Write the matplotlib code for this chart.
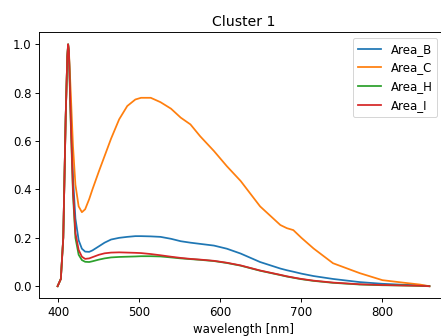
import matplotlib
matplotlib.use("Agg")
import matplotlib.pyplot as plt

wavelength = [399, 403, 406, 409, 411, 412, 413, 415, 418, 421, 425, 429, 433, 438, 442, 450,
              457, 465, 475, 485, 495, 502, 514, 526, 539, 551, 563, 575, 592, 608, 625,
              649, 674, 682, 690, 700, 715, 739, 772, 800, 825, 846, 858]

area_b = [0.0, 0.03, 0.2, 0.7, 0.95, 1.0, 0.97, 0.75, 0.45, 0.28, 0.19, 0.155, 0.143, 0.142, 0.148, 0.165,
          0.18, 0.193, 0.2, 0.204, 0.207, 0.207, 0.206, 0.204, 0.196, 0.186, 0.18, 0.175, 0.168, 0.155, 0.135,
          0.1, 0.073, 0.066, 0.06, 0.052, 0.042, 0.03, 0.017, 0.01, 0.006, 0.004, 0.0]

area_c = [0.0, 0.03, 0.2, 0.7, 0.95, 1.0, 0.97, 0.82, 0.58, 0.42, 0.33, 0.306, 0.318, 0.36, 0.40, 0.475,
          0.538, 0.61, 0.69, 0.745, 0.772, 0.779, 0.779, 0.761, 0.734, 0.697, 0.669, 0.62, 0.559, 0.496, 0.435,
          0.33, 0.253, 0.24, 0.232, 0.2, 0.156, 0.095, 0.054, 0.025, 0.015, 0.007, 0.0]

area_h = [0.0, 0.03, 0.2, 0.7, 0.95, 1.0, 0.97, 0.7, 0.38, 0.2, 0.13, 0.108, 0.101, 0.1, 0.103, 0.11,
          0.115, 0.119, 0.121, 0.122, 0.123, 0.124, 0.124, 0.123, 0.119, 0.115, 0.112, 0.109, 0.104, 0.096, 0.085,
          0.064, 0.046, 0.04, 0.035, 0.029, 0.022, 0.014, 0.007, 0.004, 0.003, 0.001, 0.0]

area_i = [0.0, 0.03, 0.2, 0.7, 0.95, 1.0, 0.97, 0.72, 0.4, 0.22, 0.15, 0.122, 0.113, 0.115, 0.12, 0.13,
          0.136, 0.139, 0.14, 0.139, 0.138, 0.137, 0.133, 0.128, 0.122, 0.117, 0.113, 0.11, 0.105, 0.097, 0.086,
          0.065, 0.047, 0.041, 0.036, 0.03, 0.023, 0.015, 0.008, 0.005, 0.003, 0.002, 0.0]

series = [("Area_B", area_b), ("Area_C", area_c), ("Area_H", area_h), ("Area_I", area_i)]

s = 1.17
plt.rcParams.update({
    "font.size": 10 * s,
    "axes.linewidth": 0.8 * s,
    "xtick.major.size": 3.5 * s,
    "ytick.major.size": 3.5 * s,
    "xtick.major.width": 0.8 * s,
    "ytick.major.width": 0.8 * s,
    "lines.linewidth": 1.5 * s,
})

fig = plt.figure(figsize=(441 / 72, 336 / 72), dpi=72)
ax = fig.add_axes([39 / 441, 0.1122, (448 - 39) / 441, 0.904 - 0.1122])
for name, vals in series:
    ax.plot(wavelength, vals, label=name)

ax.set_title("Cluster 1", fontsize=12 * s)
ax.set_xlabel("wavelength [nm]", fontsize=10 * s)
ax.tick_params(labelsize=10 * s)
ax.legend(loc="upper right", bbox_to_anchor=(437 / 441, 1 - 38 / 336),
          bbox_transform=fig.transFigure, borderaxespad=0, fontsize=10 * s)

fig.savefig("out.png", dpi=72)
